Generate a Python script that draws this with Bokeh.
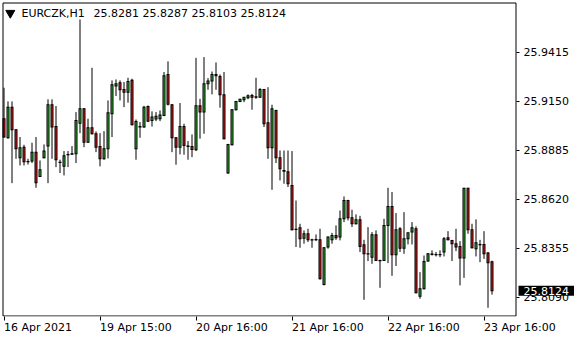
from bokeh.plotting import figure
from bokeh.models import (ColumnDataSource, FixedTicker, Label, Range1d,
                          PrintfTickFormatter, BoxAnnotation)
from bokeh.embed import file_html
from bokeh.resources import INLINE

symbol = "EURCZK"
timeframe = "H1"

opens = [
    25.9056, 25.8953, 25.9119, 25.8996, 25.8845, 25.8901, 25.8823, 25.8827, 25.8875, 25.8743,
    25.8845, 25.8908, 25.9132, 25.9014, 25.8821, 25.8798, 25.8861, 25.8864, 25.8866, 25.9032,
    25.9110, 25.8929, 25.9007, 25.8975, 25.8906, 25.8839, 25.8893, 25.9083, 25.9233, 25.9251,
    25.9215, 25.9200, 25.9264, 25.8893, 25.9011, 25.9011, 25.9123, 25.9047, 25.9054, 25.9056,
    25.9074, 25.9296, 25.9132, 25.8953, 25.8902, 25.9014, 25.8908, 25.8906, 25.8888, 25.9126,
    25.9092, 25.9246, 25.9260, 25.9289, 25.9285, 25.9186, 25.8762, 25.8915, 25.9105, 25.9150,
    25.9159, 25.9170, 25.9182, 25.9173, 25.9173, 25.9215, 25.9034, 25.8899, 25.9101, 25.8845,
    25.8776, 25.8769, 25.8695, 25.8458, 25.8465, 25.8409, 25.8433, 25.8400, 25.8400, 25.8400,
    25.8158, 25.8361, 25.8400, 25.8424, 25.8415, 25.8514, 25.8613, 25.8520, 25.8487, 25.8509,
    25.8373, 25.8324, 25.8306, 25.8427, 25.8288, 25.8288, 25.8478, 25.8581, 25.8319, 25.8460,
    25.8355, 25.8406, 25.8442, 25.8460, 25.8095, 25.8135, 25.8285, 25.8321, 25.8321, 25.8321,
    25.8334, 25.8411, 25.8397, 25.8379, 25.8364, 25.8301, 25.8680, 25.8455, 25.8352, 25.8375,
    25.8375, 25.8328, 25.8281,
]
highs = [
    25.9224, 25.9150, 25.9150, 25.9000, 25.8957, 25.8915, 25.8839, 25.8926, 25.8957, 25.8830,
    25.8917, 25.9161, 25.9161, 25.9125, 25.8834, 25.8881, 25.8881, 25.8908, 25.9092, 25.9594,
    25.9114, 25.9056, 25.9332, 25.8987, 25.8978, 25.8989, 25.9155, 25.9264, 25.9269, 25.9264,
    25.9255, 25.9278, 25.9273, 25.9052, 25.9038, 25.9126, 25.9128, 25.9096, 25.9092, 25.9101,
    25.9309, 25.9367, 25.9135, 25.8957, 25.9141, 25.9029, 25.8935, 25.8971, 25.9386, 25.9164,
    25.9390, 25.9276, 25.9312, 25.9361, 25.9296, 25.9309, 25.8920, 25.9108, 25.9153, 25.9164,
    25.9173, 25.9188, 25.9191, 25.9278, 25.9222, 25.9218, 25.9227, 25.9132, 25.9105, 25.8884,
    25.8884, 25.8884, 25.8881, 25.8613, 25.8487, 25.8451, 25.8460, 25.8406, 25.8429, 25.8460,
    25.8361, 25.8418, 25.8438, 25.8478, 25.8559, 25.8635, 25.8617, 25.8563, 25.8538, 25.8530,
    25.8400, 25.8469, 25.8442, 25.8451, 25.8292, 25.8514, 25.8682, 25.8659, 25.8545, 25.8469,
    25.8550, 25.8438, 25.8496, 25.8473, 25.8225, 25.8315, 25.8328, 25.8343, 25.8334, 25.8343,
    25.8415, 25.8447, 25.8400, 25.8460, 25.8393, 25.8682, 25.8682, 25.8487, 25.8511, 25.8400,
    25.8447, 25.8334, 25.8287,
]
lows = [
    25.8953, 25.8948, 25.8707, 25.8839, 25.8803, 25.8803, 25.8808, 25.8816, 25.8682, 25.8740,
    25.8841, 25.8707, 25.8839, 25.8794, 25.8762, 25.8749, 25.8794, 25.8861, 25.8816, 25.8978,
    25.8902, 25.8926, 25.8971, 25.8875, 25.8798, 25.8834, 25.8841, 25.8957, 25.9179, 25.9155,
    25.9119, 25.9143, 25.9020, 25.8834, 25.8953, 25.9007, 25.9038, 25.9014, 25.9043, 25.9043,
    25.9070, 25.9128, 25.8875, 25.8807, 25.8863, 25.8861, 25.8834, 25.8848, 25.8881, 25.8948,
    25.8975, 25.9213, 25.9188, 25.9213, 25.9116, 25.8944, 25.8758, 25.8911, 25.9101, 25.9146,
    25.9146, 25.9162, 25.9105, 25.9164, 25.9170, 25.9011, 25.8839, 25.8671, 25.8816, 25.8722,
    25.8704, 25.8686, 25.8451, 25.8361, 25.8357, 25.8379, 25.8388, 25.8357, 25.8393, 25.8185,
    25.8153, 25.8352, 25.8379, 25.8400, 25.8397, 25.8496, 25.8505, 25.8469, 25.8483, 25.8334,
    25.8075, 25.8285, 25.8270, 25.8285, 25.8140, 25.8285, 25.8274, 25.8205, 25.8258, 25.8334,
    25.8324, 25.8375, 25.8375, 25.8110, 25.8081, 25.8131, 25.8281, 25.8315, 25.8310, 25.8306,
    25.8310, 25.8397, 25.8285, 25.8339, 25.8153, 25.8194, 25.8433, 25.8353, 25.8310, 25.8279,
    25.8297, 25.8032, 25.8103,
]
closes = [
    25.8957, 25.9119, 25.8996, 25.8893, 25.8899, 25.8823, 25.8825, 25.8875, 25.8709, 25.8780,
    25.8881, 25.9132, 25.9011, 25.8834, 25.8819, 25.8855, 25.8863, 25.8866, 25.9047, 25.9110,
    25.8929, 25.9007, 25.8975, 25.8902, 25.8839, 25.8893, 25.9088, 25.9240, 25.9246, 25.9213,
    25.9200, 25.9258, 25.9023, 25.9041, 25.9014, 25.9119, 25.9043, 25.9065, 25.9069, 25.9076,
    25.9289, 25.9134, 25.8953, 25.8902, 25.9014, 25.8911, 25.8906, 25.8890, 25.9126, 25.9092,
    25.9246, 25.9260, 25.9296, 25.9296, 25.9186, 25.8948, 25.8917, 25.9105, 25.9150, 25.9161,
    25.9172, 25.9181, 25.9172, 25.9175, 25.9215, 25.9029, 25.8899, 25.9110, 25.8845, 25.8785,
    25.8771, 25.8704, 25.8455, 25.8456, 25.8406, 25.8433, 25.8400, 25.8399, 25.8402, 25.8189,
    25.8357, 25.8415, 25.8424, 25.8411, 25.8514, 25.8613, 25.8520, 25.8487, 25.8509, 25.8364,
    25.8324, 25.8323, 25.8427, 25.8288, 25.8287, 25.8478, 25.8581, 25.8319, 25.8455, 25.8355,
    25.8406, 25.8438, 25.8465, 25.8113, 25.8135, 25.8283, 25.8324, 25.8323, 25.8319, 25.8319,
    25.8406, 25.8400, 25.8379, 25.8361, 25.8301, 25.8680, 25.8455, 25.8357, 25.8384, 25.8373,
    25.8324, 25.8276, 25.8124,
]

time_ticks = [0, 24, 48, 72, 96, 120]
time_labels = ["16 Apr 2021", "19 Apr 15:00", "20 Apr 16:00", "21 Apr 16:00", "22 Apr 16:00", "23 Apr 16:00"]
price_ticks = [25.8090, 25.8355, 25.8620, 25.8885, 25.9150, 25.9415]

BULL = "#2db52d"
BEAR = "#e41a1a"
FONT = "DejaVu Sans"

# layout constants (pixel geometry of the frame)
FRAME_W, FRAME_H = 580, 316
PX_PER_BAR = 4.0
BAR0_PX = 3.5
TOP_PRICE = 25.96967
PRICE_PER_PX = 0.0005418


def bx(px):
    return (px - BAR0_PX) / PX_PER_BAR


def py(px):
    return TOP_PRICE - px * PRICE_PER_PX


half = 0.5 * PRICE_PER_PX
n = len(opens)
xs = list(range(n))
tops = [max(o, c) for o, c in zip(opens, closes)]
bots = [min(o, c) for o, c in zip(opens, closes)]
inner_top = [t - half if (t - b) > 2 * half else (t + b) / 2 for t, b in zip(tops, bots)]
inner_bot = [b + half if (t - b) > 2 * half else (t + b) / 2 for t, b in zip(tops, bots)]
src = ColumnDataSource(dict(
    x=xs,
    high=highs,
    low=lows,
    otop=[t + half for t in tops],
    obot=[b - half for b in bots],
    itop=inner_top,
    ibot=inner_bot,
    color=[BULL if c >= o else BEAR for o, c in zip(opens, closes)],
))

p = figure(frame_width=FRAME_W, frame_height=FRAME_H,
           x_range=Range1d(bx(0), bx(FRAME_W)), y_range=Range1d(py(FRAME_H), py(0)),
           output_backend="svg", toolbar_location=None, title=None,
           x_axis_location="below", y_axis_location="right",
           min_border_left=0, min_border_top=0, min_border_right=0, min_border_bottom=24)
p.background_fill_color = "white"
p.border_fill_color = "white"
p.outline_line_color = None
p.grid.visible = False

# chart border
p.add_layout(BoxAnnotation(left=bx(2.5), right=bx(515.5), top=py(2.5), bottom=py(315.5),
                           fill_alpha=0, line_color="black", line_width=1, line_alpha=1))

# candles: wick, black body outline, coloured body interior
p.segment(x0="x", y0="low", x1="x", y1="high", source=src, line_color="black", line_width=1)
p.vbar(x="x", width=0.75, top="otop", bottom="obot", source=src,
       fill_color="black", line_color=None)
p.vbar(x="x", width=0.25, top="itop", bottom="ibot", source=src,
       fill_color="color", line_color=None)

xa = p.xaxis[0]
ya = p.yaxis[0]
for ax in (xa, ya):
    ax.axis_line_color = None
    ax.minor_tick_line_color = None
    ax.major_tick_in = 0
    ax.major_tick_line_color = "black"
    ax.major_label_text_font = FONT
    ax.major_label_text_font_size = "11px"
    ax.major_label_text_color = "black"
xa.ticker = FixedTicker(ticks=time_ticks)
xa.major_label_overrides = {t: l for t, l in zip(time_ticks, time_labels)}
xa.major_tick_out = 4
xa.major_label_standoff = 7
xa.major_label_orientation = -1e-6
ya.ticker = FixedTicker(ticks=price_ticks)
ya.formatter = PrintfTickFormatter(format="%.4f")
ya.major_tick_out = 3
ya.major_label_standoff = 4
ya.fixed_location = bx(516)

# header
hdr_y = py(12.5)
p.scatter(x=[bx(9.8)], y=[hdr_y], marker="inverted_triangle", size=9, fill_color="black", line_color="black")
p.add_layout(Label(x=bx(21), y=hdr_y, text=f"{symbol},{timeframe}", text_font=FONT,
                   text_font_size="11px", text_baseline="middle", text_align="left", text_color="black"))
vals = " ".join(f"{v:.4f}" for v in (opens[-1], highs[-1], lows[-1], closes[-1]))
p.add_layout(Label(x=bx(93), y=hdr_y, text=vals, text_font=FONT,
                   text_font_size="11px", text_baseline="middle", text_align="left", text_color="black"))

# current price box
p.add_layout(Label(x=bx(518), y=closes[-1], text=f"{closes[-1]:.4f}", text_font=FONT,
                   text_font_size="11px", text_baseline="middle", text_align="left",
                   text_color="white", background_fill_color="black", padding=(5, 1)))

open("out.html", "w").write(file_html(p, INLINE))
